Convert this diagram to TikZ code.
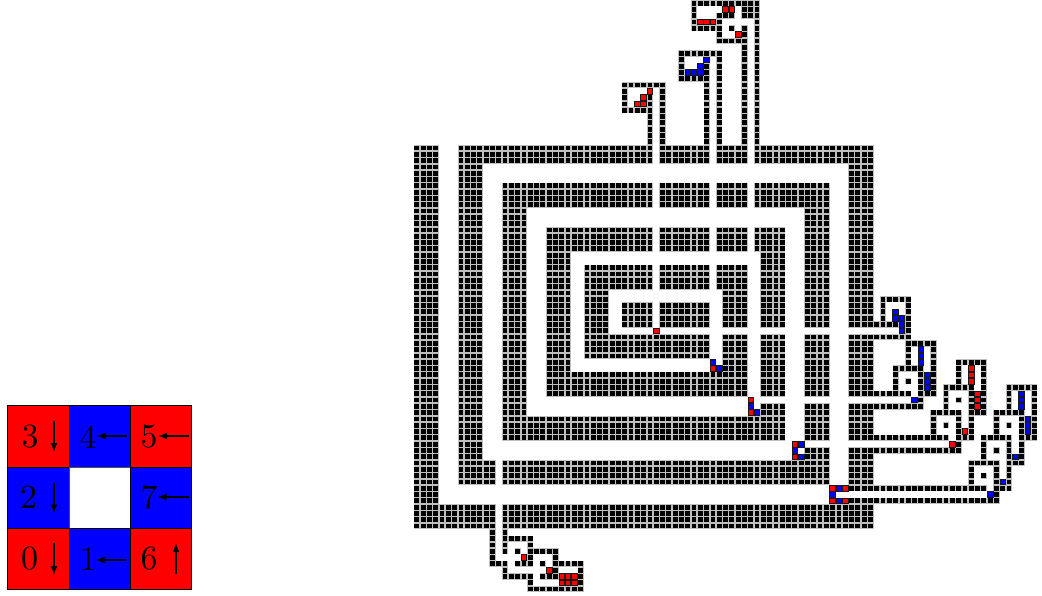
\documentclass[tikz,border=0pt]{standalone}
\usetikzlibrary{arrows.meta}
\tikzset{
  wall/.style={fill=black},
  halo/.style={fill=black!25},
  redtile/.style={fill=red,draw=black!90,line width=0.8pt},
  bluetile/.style={fill=blue,draw=black!90,line width=0.8pt},
  legcell/.style={draw=black,line width=1pt},
  legtext/.style={scale=3.4,inner sep=0pt},
  legarrow/.style={-{Latex[length=9pt,width=7pt]},line width=1.4pt,draw=black}
}
\newcommand\W[4]{\foreach \cc in {#1,...,#2}{\foreach \rr in {#3,...,#4}{\fill[halo] (\cc,\rr) rectangle (\cc+1,\rr+1);\fill[wall] (\cc+.12,\rr+.12) rectangle (\cc+.88,\rr+.88);}}}
\newcommand\HR[3]{\W{#1}{#2}{#3}{#3}}
\newcommand\VR[3]{\W{#1}{#1}{#2}{#3}}
\newcommand\RT[2]{\filldraw[redtile] (#1+.06,#2+.06) rectangle (#1+.94,#2+.94);}
\newcommand\BT[2]{\filldraw[bluetile] (#1+.06,#2+.06) rectangle (#1+.94,#2+.94);}
\begin{document}
\begin{tikzpicture}[x=1pt,y=-1pt]
\useasboundingbox (0,0) rectangle (1042,596);
% legend
\filldraw[legcell,fill=red]  (7.7,405.7) rectangle (69,467);
\filldraw[legcell,fill=blue] (69,405.7) rectangle (130.3,467);
\filldraw[legcell,fill=red]  (130.3,405.7) rectangle (191.7,467);
\filldraw[legcell,fill=blue] (7.7,467) rectangle (69,528.3);
\filldraw[legcell,fill=white,draw=black!70] (69,467) rectangle (130.3,528.3);
\filldraw[legcell,fill=blue] (130.3,467) rectangle (191.7,528.3);
\filldraw[legcell,fill=red]  (7.7,528.3) rectangle (69,589.5);
\filldraw[legcell,fill=blue] (69,528.3) rectangle (130.3,589.5);
\filldraw[legcell,fill=red]  (130.3,528.3) rectangle (191.7,589.5);
\node[legtext] (d3) at (30,437) {3};
\node[legtext] (d4) at (88,437) {4};
\node[legtext] (d5) at (149,437) {5};
\node[legtext] (d2) at (28.5,497.5) {2};
\node[legtext] (d7) at (149,497.5) {7};
\node[legtext] (d0) at (29.5,559) {0};
\node[legtext] (d1) at (88,559.5) {1};
\node[legtext] (d6) at (149,559) {6};
\coordinate (a3) at (54,421); \coordinate (b3) at (54,452);
\coordinate (a4) at (127,436); \coordinate (b4) at (96.5,436);
\coordinate (a5) at (189,436); \coordinate (b5) at (158,436);
\coordinate (a2) at (54,482.5); \coordinate (b2) at (54,513.5);
\coordinate (a7) at (188.5,497); \coordinate (b7) at (157.5,497);
\coordinate (a0) at (54,543); \coordinate (b0) at (54,575);
\coordinate (a1) at (126,560); \coordinate (b1) at (95.5,560);
\coordinate (a6) at (176,574); \coordinate (b6) at (176,543);
\draw[legarrow] (a3) -- (b3);
\draw[legarrow] (a4) -- (b4);
\draw[legarrow] (a5) -- (b5);
\draw[legarrow] (a2) -- (b2);
\draw[legarrow] (a7) -- (b7);
\draw[legarrow] (a0) -- (b0);
\draw[legarrow] (a1) -- (b1);
\draw[legarrow] (a6) -- (b6);
% tile assembly
\begin{scope}[shift={(413.7,0)},x=6.3pt,y=-6.3pt]
\W{0}{3}{23}{83}
\W{4}{12}{80}{83}
\W{14}{72}{80}{83}
\W{7}{37}{23}{25}\W{39}{46}{23}{25}\W{48}{52}{23}{25}\W{54}{72}{23}{25}
\W{7}{10}{26}{76}
\W{11}{12}{73}{76}\W{14}{65}{73}{76}
\W{14}{37}{29}{32}\W{39}{46}{29}{32}\W{48}{52}{29}{32}\W{54}{65}{29}{32}
\W{14}{17}{33}{65}
\W{14}{58}{66}{69}
\W{21}{37}{36}{39}\W{39}{46}{36}{39}\W{48}{52}{36}{39}\W{54}{58}{36}{39}
\W{21}{24}{40}{58}
\W{21}{52}{59}{62}
\W{27}{37}{42}{45}\W{39}{46}{42}{45}\W{48}{52}{42}{45}
\W{27}{30}{46}{52}
\W{27}{46}{53}{56}
\W{33}{37}{48}{51}\W{39}{46}{48}{51}
\W{49}{52}{46}{51}\W{49}{52}{53}{58}
\W{55}{58}{40}{51}\W{55}{58}{53}{62}\W{55}{58}{64}{65}
\W{62}{65}{33}{51}\W{62}{65}{53}{62}\W{62}{65}{64}{69}\W{62}{65}{71}{72}
\W{69}{72}{26}{51}\W{69}{72}{53}{62}\W{69}{72}{64}{69}\W{69}{72}{71}{76}
\HR{73}{76}{51}\HR{73}{78}{53}\HR{73}{78}{62}\HR{73}{80}{64}
\HR{73}{84}{69}\HR{73}{86}{71}\HR{69}{90}{77}\HR{69}{92}{79}
% bottom gadget
\VR{12}{84}{89}\VR{14}{84}{87}
\HR{15}{18}{85}\VR{18}{86}{89}\HR{19}{22}{87}\VR{16}{87}{87}
\HR{13}{14}{89}\HR{16}{17}{89}\VR{22}{88}{91}\VR{20}{89}{89}
\HR{23}{26}{89}\VR{26}{90}{93}\VR{14}{90}{91}\HR{15}{18}{91}\VR{18}{92}{93}
\HR{19}{25}{93}\HR{20}{21}{91}
\RT{17}{88}\RT{21}{90}
\RT{23}{91}\RT{24}{91}\RT{25}{91}\RT{23}{92}\RT{24}{92}\RT{25}{92}
% top gadgets
\VR{37}{14}{22}\VR{39}{13}{22}\HR{33}{38}{13}\VR{33}{14}{17}\HR{34}{36}{17}
\RT{37}{14}\RT{36}{15}\RT{35}{16}\RT{36}{16}
\VR{46}{10}{22}\VR{48}{8}{22}\HR{42}{47}{8}\VR{42}{9}{12}\HR{43}{45}{12}
\BT{46}{9}\BT{45}{10}\BT{43}{11}\BT{44}{11}\BT{45}{11}
\VR{52}{4}{22}\VR{54}{0}{22}\HR{44}{53}{0}\VR{44}{1}{4}\HR{45}{48}{4}
\VR{48}{2}{3}\VR{48}{5}{6}\HR{49}{51}{6}\HR{49}{50}{2}\W{52}{53}{1}{2}\VR{50}{4}{4}
\RT{49}{1}\RT{50}{1}\RT{45}{3}\RT{46}{3}\RT{47}{3}\RT{51}{5}
% right gadget A
\HR{74}{78}{47}\VR{74}{48}{50}\VR{78}{48}{52}
\BT{76}{49}\BT{76}{50}\BT{77}{50}\BT{77}{51}\BT{77}{52}
\HR{78}{82}{54}\VR{78}{55}{57}\VR{82}{55}{62}\HR{76}{80}{58}
\VR{76}{59}{61}\VR{78}{60}{60}\VR{80}{59}{63}\HR{81}{81}{62}
\BT{80}{55}\BT{80}{56}\BT{80}{57}\BT{81}{59}\BT{81}{60}\BT{81}{61}\BT{79}{63}
% gadget B
\HR{86}{90}{57}\VR{86}{58}{60}\VR{90}{58}{65}\HR{84}{88}{61}
\VR{84}{62}{64}\VR{86}{63}{63}\VR{88}{62}{68}\HR{82}{86}{65}\HR{89}{89}{65}
\VR{82}{66}{68}\VR{84}{67}{67}\VR{86}{66}{70}\HR{87}{88}{69}
\RT{88}{58}\RT{88}{59}\RT{88}{60}\RT{89}{62}\RT{89}{63}\RT{89}{64}\RT{87}{68}\RT{85}{70}
% gadget C
\HR{94}{98}{61}\VR{94}{62}{64}\VR{98}{62}{69}\HR{92}{96}{65}
\VR{92}{66}{68}\VR{94}{67}{67}\VR{96}{66}{73}\HR{97}{97}{69}
\HR{90}{94}{69}\VR{90}{70}{72}\VR{92}{71}{71}\VR{94}{70}{77}\HR{95}{95}{73}
\HR{88}{92}{73}\VR{88}{74}{76}\VR{90}{75}{75}\VR{92}{74}{78}\HR{93}{93}{77}
\BT{96}{62}\BT{96}{63}\BT{96}{64}\BT{97}{66}\BT{97}{67}\BT{97}{68}\BT{95}{72}\BT{93}{76}\BT{91}{78}
% signal tiles
\RT{38}{52}
\BT{47}{57}\RT{47}{58}\BT{48}{58}
\RT{53}{63}\BT{53}{64}\RT{53}{65}\BT{54}{65}
\RT{60}{70}\BT{61}{70}\BT{60}{71}\RT{60}{72}\BT{61}{72}
\RT{66}{77}\BT{67}{77}\RT{68}{77}\BT{66}{78}\RT{66}{79}\BT{67}{79}\RT{68}{79}
\end{scope}
\end{tikzpicture}
\end{document}
